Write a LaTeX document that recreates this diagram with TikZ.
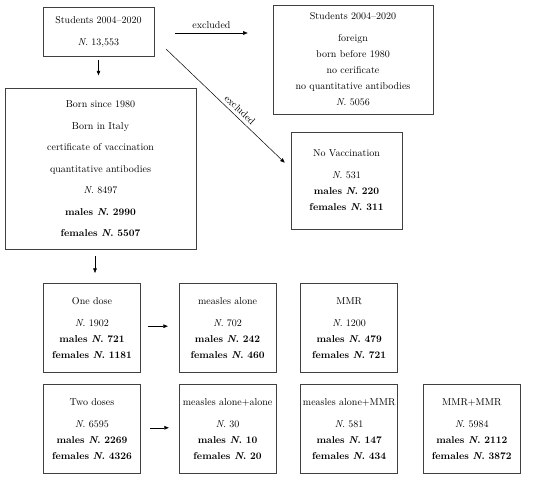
\documentclass[tikz,border=0pt]{standalone}
\usetikzlibrary{arrows.meta,positioning,calc}
\tikzset{
  stage/.style={
    draw=black!75,
    line width=0.6pt,
    rectangle,
    align=center,
    inner sep=0pt,
    font=\fontsize{10}{16}\selectfont
  },
  bigstage/.style={
    stage,
    font=\fontsize{10}{21.5}\selectfont
  },
  dose/.style={
    stage,
    minimum width=97pt,
    minimum height=89pt
  },
  flow/.style={
    -{Triangle[length=4.5pt,width=3.6pt]},
    line width=0.5pt
  }
}
\newcommand{\ncount}[1]{\textit{N}.\ #1}
\newcommand{\scount}[2]{\textbf{#1 \textit{N}.\ #2}}

\begin{document}
\begin{tikzpicture}
\useasboundingbox (0,0) rectangle (550pt,-478pt);

\node[stage, minimum width=111pt, minimum height=49pt] (stud) at (98.5pt,-31.5pt)
  {Students 2004--2020\\[6pt]\ncount{13,553}};
\node[stage, minimum width=160pt, minimum height=109pt] (excl) at (353pt,-59.5pt)
  {Students 2004--2020\\[6pt]foreign\\born before 1980\\no cerificate\\no quantitative antibodies\\\ncount{5056}};
\node[bigstage, minimum width=191pt, minimum height=161pt, below=32pt of stud, xshift=2pt] (born)
  {Born since 1980\\Born in Italy\\certificate of vaccination\\quantitative antibodies\\\ncount{8497}\\\scount{males}{2990}\\\scount{females}{5507}};
\node[stage, minimum width=111pt, minimum height=97pt] (novacc) at (346.5pt,-180.5pt)
  {No Vaccination\\[6pt]\ncount{531}\\\scount{males}{220}\\\scount{females}{311}};

% one dose row
\node[dose, below=33pt of born, xshift=-8.5pt] (one)
  {One dose\\[6pt]\ncount{1902}\\\scount{males}{721}\\\scount{females}{1181}};
\node[dose, right=38pt of one] (alone)
  {measles alone\\[6pt]\ncount{702}\\\scount{males}{242}\\\scount{females}{460}};
\node[dose, right=24pt of alone] (mmr)
  {MMR\\[6pt]\ncount{1200}\\\scount{males}{479}\\\scount{females}{721}};

% two doses row
\node[dose, below=12pt of one] (two)
  {Two doses\\[6pt]\ncount{6595}\\\scount{males}{2269}\\\scount{females}{4326}};
\node[dose, right=38pt of two] (aa)
  {measles alone+alone\\[6pt]\ncount{30}\\\scount{males}{10}\\\scount{females}{20}};
\node[dose, right=24pt of aa] (am)
  {measles alone+MMR\\[6pt]\ncount{581}\\\scount{males}{147}\\\scount{females}{434}};
\node[dose, right=25pt of am] (mm)
  {MMR+MMR\\[6pt]\ncount{5984}\\\scount{males}{2112}\\\scount{females}{3872}};

\coordinate (exA) at ($(stud.east)+(21pt,-1.5pt)$);
\coordinate (exB) at ($(exA -| excl.west)+(-25pt,0)$);
\coordinate (dgA) at ($(stud.south east)+(12pt,7pt)$);
\coordinate (dgB) at ($(novacc.north west)+(-6pt,-31pt)$);
\coordinate (stA) at ($(stud.south)+(0,-4pt)$);
\coordinate (stB) at ($(stud.south)+(0,-19pt)$);
\coordinate (bnA) at ($(born.south)+(-5.5pt,-6pt)$);
\coordinate (bnB) at ($(born.south)+(-5.5pt,-23pt)$);
\coordinate (r1A) at ($(one.east)+(7pt,1.5pt)$);
\coordinate (r1B) at ($(alone.west)+(-11pt,1.5pt)$);
\coordinate (r2A) at ($(two.east)+(9pt,1.5pt)$);
\coordinate (r2B) at ($(aa.west)+(-10pt,1.5pt)$);

\draw[flow] (exA) -- node[above=1pt] {excluded} (exB);
\draw[flow] (dgA) -- node[sloped, above, pos=0.58] {excluded} (dgB);
\draw[flow] (stA) -- (stB);
\draw[flow] (bnA) -- (bnB);
\draw[flow] (r1A) -- (r1B);
\draw[flow] (r2A) -- (r2B);

\end{tikzpicture}
\end{document}
